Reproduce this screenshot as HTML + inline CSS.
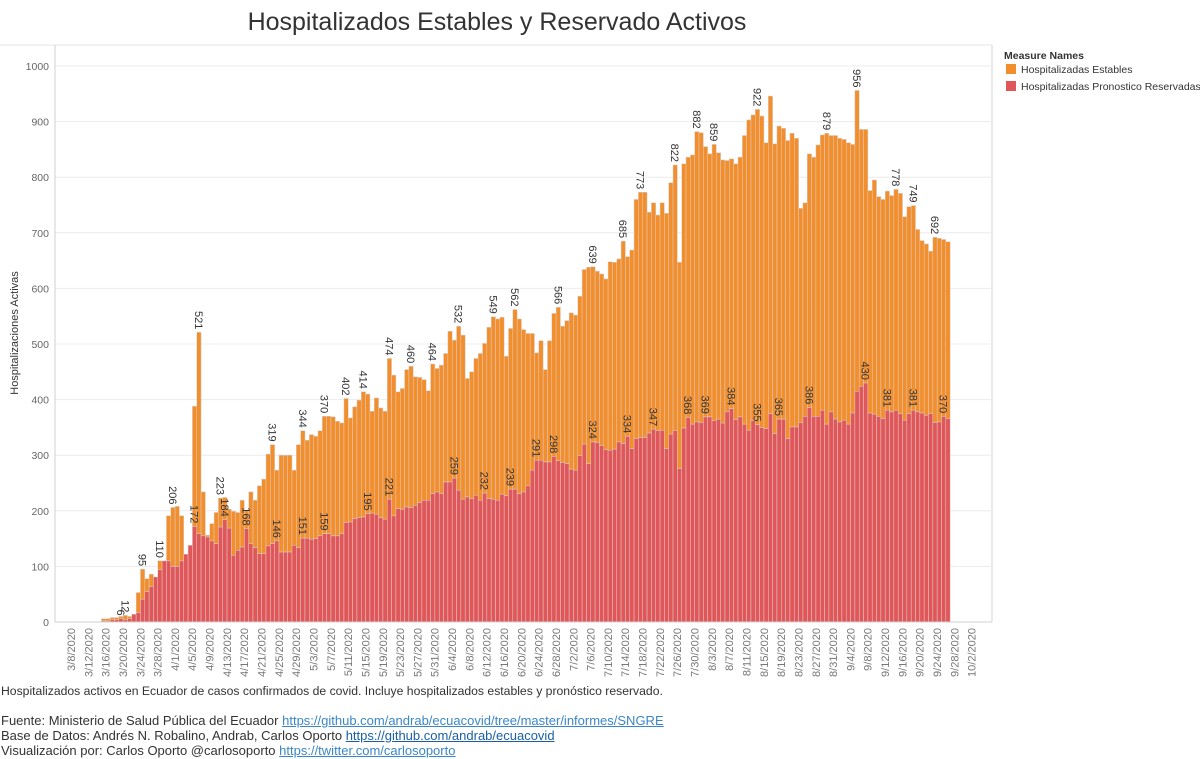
<!DOCTYPE html>
<html><head><meta charset="utf-8"><style>
body{margin:0;background:#fff;font-family:"Liberation Sans",sans-serif;}
svg{display:block}
.foot{position:absolute;left:1px;font-size:13px;color:#333;white-space:nowrap}
.foot a{color:#3a87c8;text-decoration:underline}
</style></head><body>
<div style="position:relative;width:1200px;height:759px;overflow:hidden">
<svg id="chart" width="1200" height="759">
<text x="497" y="30" text-anchor="middle" font-size="25" fill="#333">Hospitalizados Estables y Reservado Activos</text>
<line x1="0" y1="45" x2="992" y2="45" stroke="#e6e6e6"/>
<line x1="992" y1="45" x2="992" y2="622" stroke="#d6d6d6"/>
<text transform="translate(18,333) rotate(-90)" text-anchor="middle" font-size="11" fill="#333">Hospitalizaciones Activas</text>
<g id="grid"></g><g id="bars"></g><g id="labels"></g><g id="axes"></g>
<g>
<text x="1004" y="59" font-size="10.5" font-weight="bold" fill="#333">Measure Names</text>
<rect x="1006" y="64" width="10" height="10" fill="#F28E2B"/>
<text x="1021" y="73" font-size="10.5" fill="#333">Hospitalizadas Estables</text>
<rect x="1006" y="81" width="10" height="10" fill="#E15759"/>
<text x="1021" y="90" font-size="10.5" fill="#333">Hospitalizadas Pronostico Reservadas</text>
</g>
</svg>
<div class="foot" style="top:684px;font-size:12.2px">Hospitalizados activos en Ecuador de casos confirmados de covid. Incluye hospitalizados estables y pronóstico reservado.</div>
<div class="foot" style="top:713px">Fuente: Ministerio de Salud Pública del Ecuador <a>https://github.com/andrab/ecuacovid/tree/master/informes/SNGRE</a></div>
<div class="foot" style="top:728px">Base de Datos: Andrés N. Robalino, Andrab, Carlos Oporto <a style="color:#1a5fa8">https://github.com/andrab/ecuacovid</a></div>
<div class="foot" style="top:743px">Visualización por: Carlos Oporto @carlosoporto <a>https://twitter.com/carlosoporto</a></div>
</div>
<script>
const firstDay = 8; // days after 3/8/2020
const total = [6,6,8,8,10,12,10,14,53,95,78,86,81,110,110,191,206,208,191,122,138,388,521,234,156,177,197,223,224,203,199,197,219,201,234,219,245,257,302,319,273,300,300,300,273,319,344,327,337,334,344,370,370,
369,361,358,402,367,387,399,414,410,379,403,385,379,474,444,414,420,454,460,441,440,436,416,464,456,462,483,523,507,532,516,438,450,474,483,501,530,549,545,548,478,528,562,545,526,519,519,484,506,454,506,555,566,532,
542,556,552,586,634,638,639,631,626,617,648,647,653,685,657,669,760,773,773,737,754,732,754,735,790,822,647,824,836,840,882,880,855,842,859,844,831,830,833,824,836,875,
903,912,922,910,862,
946,860,892,888,866,879,870,744,754,842,836,858,876,879,875,875,870,868,862,859,956,886,886,776,795,765,760,775,767,778,771,729,747,749,706,686,680,667,692,690,688,684];
const reserved = [2,2,4,4,6,4,6,14,17,41,55,64,81,94,110,110,100,100,110,122,138,172,159,155,153,146,141,171,184,169,120,129,135,168,141,134,123,123,137,141,146,126,126,126,138,134,151,151,149,150,155,159,159,
155,155,159,179,180,186,188,189,195,196,194,188,185,221,191,204,203,207,206,210,215,219,219,231,234,231,252,252,259,237,221,225,222,228,219,232,222,221,219,230,227,239,239,231,234,245,273,291,291,288,288,298,290,287,
285,275,273,299,320,285,324,323,317,310,309,311,324,321,334,312,330,332,332,340,347,344,345,312,338,344,276,349,368,356,360,359,369,369,362,365,358,378,384,364,369,356,
345,362,355,350,348,
375,339,365,365,330,351,351,359,370,386,370,370,381,356,378,365,360,363,356,376,415,424,430,376,374,370,366,381,378,381,375,363,375,381,378,376,372,375,359,360,370,366];
const totalLabelIdx = [5,9,13,16,22,27,39,46,51,56,60,66,71,76,82,90,95,105,113,120,124,132,137,141,151,167,174,183,187,192];
const reservedLabelIdx = [4,21,28,33,40,46,51,61,66,81,88,94,100,104,113,121,127,135,139,145,151,156,163,176,181,187,194];
const yTicks = [0,100,200,300,400,500,600,700,800,900,1000];
const months = [31,29,31,30,31,30,31,31,30,31,30,31];

const NS = "http://www.w3.org/2000/svg";
const X0 = 69, PX = 4.33, Y0 = 622, YS = 0.556;
const x = d => X0 + PX * d;
const y = v => Y0 - YS * v;
function mk(tag, attrs, parent){const e=document.createElementNS(NS,tag);for(const k in attrs)e.setAttribute(k,attrs[k]);parent.appendChild(e);return e;}
function dateLabel(d){let m=2,day=8+d;while(day>months[m]){day-=months[m];m++;}return (m+1)+"/"+day+"/2020";}

const grid=document.getElementById('grid'), axes=document.getElementById('axes'), bars=document.getElementById('bars'), labels=document.getElementById('labels');
yTicks.forEach(v=>{
  const l=mk('line',{x1:55,x2:992,y1:y(v),y2:y(v),stroke:'#ececec'},grid);
  
  
  const t=mk('text',{x:49,y:y(v)+4,'text-anchor':'end','font-size':10.5,fill:'#666'},axes);
  t.textContent=v;
  
  
});
const al=mk('line',{x1:55,x2:55,y1:45,y2:Y0,stroke:'#d0d0d0'},axes);


const bl=mk('line',{x1:55,x2:992,y1:Y0,y2:Y0,stroke:'#d0d0d0'},axes);


for(let d=0; d<=208; d+=4){
  const t=mk('text',{transform:`translate(${x(d)+6},${Y0+6}) rotate(-90)`,'text-anchor':'end','font-size':11,fill:'#777'},axes);
  t.textContent=dateLabel(d);
  
  
}
total.forEach((tv,i)=>{
  const rv=reserved[i], cx=x(firstDay+i), w=PX;
  const r=mk('rect',{x:cx-w/2,width:w,y:y(rv),height:Y0-y(rv),fill:'#E15759',stroke:'#d8d0d0','stroke-width':0.5},bars);
  
  
  if(tv>rv){
    const o=mk('rect',{x:cx-w/2,width:w,y:y(tv),height:y(rv)-y(tv),fill:'#F28E2B',stroke:'#d8d0d0','stroke-width':0.5},bars);
    
    
  }
});
function lab(i,v,kind){
  const t=mk('text',{transform:`translate(${x(firstDay+i)-4},${y(v)-3}) rotate(90)`,'text-anchor':'end','font-size':11,fill:'#333'},labels);
  t.textContent=v;
  
  
}
totalLabelIdx.forEach(i=>lab(i,total[i],'total-value-label'));
reservedLabelIdx.forEach(i=>lab(i,reserved[i],'reserved-value-label'));
</script>
</body></html>
